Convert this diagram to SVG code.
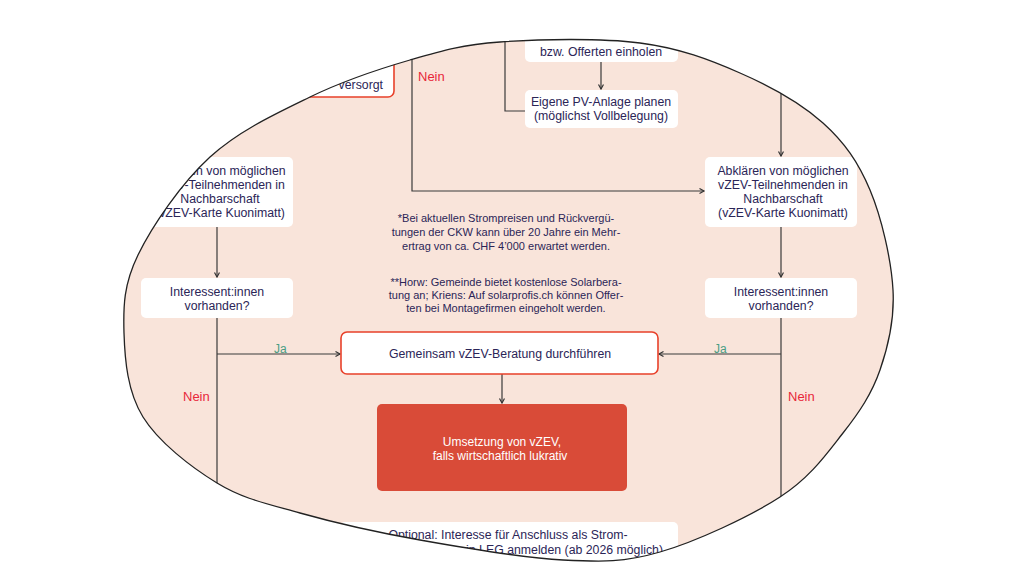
<svg xmlns="http://www.w3.org/2000/svg" width="1024" height="576" viewBox="0 0 1024 576">
<defs>
<path id="blob" d="M500 42 C538.3 39.2 600 37.8 640 43 C680 48.2 709.5 59.7 740 73 C770.5 86.3 801.3 103.5 823 123 C844.7 142.5 858.3 162.2 870 190 C881.7 217.8 891.3 260 893 290 C894.7 320 888.3 346.2 880 370 C871.7 393.8 859.7 411.8 843 433 C826.3 454.2 810.5 477.2 780 497 C749.5 516.8 696.2 541.5 660 552 C623.8 562.5 603 562 563 560 C523 558 463.8 547.8 420 540 C376.2 532.2 333.8 522.5 300 513 C266.2 503.5 243.2 499 217 483 C190.8 467 158.5 442 143 417 C127.5 392 124.8 360 124 333 C123.2 306 123.7 284.3 138 255 C152.3 225.7 181.3 183.3 210 157 C238.7 130.7 276.7 113.2 310 97 C343.3 80.8 378.3 69.2 410 60 C441.7 50.8 461.7 44.8 500 42 Z"/>
<clipPath id="clip"><use href="#blob"/></clipPath>
<marker id="arr" markerUnits="userSpaceOnUse" markerWidth="8" markerHeight="8" refX="5" refY="3" orient="auto">
<path d="M0.5,0.5 L5,3 L0.5,5.5" fill="none" stroke="#333" stroke-width="1.2"/>
</marker>
<style>
.box{fill:#ffffff}
.redbox{fill:#ffffff;stroke:#e8402a;stroke-width:1.6}
.act{fill:#d94b38}
.t{font-family:"Liberation Sans",Arial,sans-serif;font-size:12.3px;fill:#2b2557;text-anchor:middle}
.note{font-family:"Liberation Sans",Arial,sans-serif;font-size:11px;fill:#2b2557;text-anchor:middle}
.w{font-family:"Liberation Sans",Arial,sans-serif;font-size:12px;fill:#ffffff;text-anchor:middle}
.ja{font-family:"Liberation Sans",Arial,sans-serif;font-size:12px;fill:#4a9e84}
.nein{font-family:"Liberation Sans",Arial,sans-serif;font-size:13px;fill:#e8283a}
.ln{fill:none;stroke:#3a3a3a;stroke-width:1.2}
</style>
</defs>
<rect width="1024" height="576" fill="#ffffff"/>
<use href="#blob" fill="#f9e4da"/>
<g clip-path="url(#clip)">
<g id="connectors">
<path class="ln" d="M412 0 V191 H704" marker-end="url(#arr)"/>
<path class="ln" d="M505 0 V111 H525"/>
<path class="ln" d="M601 62 V89" marker-end="url(#arr)"/>
<path class="ln" d="M781 0 V156" marker-end="url(#arr)"/>
<path class="ln" d="M217 226 V277" marker-end="url(#arr)"/>
<path class="ln" d="M781 227 V277" marker-end="url(#arr)"/>
<path class="ln" d="M217 318 V576"/>
<path class="ln" d="M781 318 V576"/>
<path class="ln" d="M217 354 H340" marker-end="url(#arr)"/>
<path class="ln" d="M781 354 H659" marker-end="url(#arr)"/>
<path class="ln" d="M502 374 V403" marker-end="url(#arr)"/>
<text class="nein" x="418" y="81">Nein</text>
<text class="ja" x="274" y="353">Ja</text>
<text class="ja" x="714" y="353">Ja</text>
<text class="nein" x="183" y="401">Nein</text>
<text class="nein" x="788" y="401">Nein</text>
</g>
<g id="versorgt">
<rect class="redbox" x="180" y="20" width="214" height="77" rx="6"/>
<text class="t" x="383" y="89" style="text-anchor:end">versorgt</text>
</g>
<g id="offerten">
<rect class="box" x="525" y="10" width="153" height="52" rx="5"/>
<text class="t" x="601" y="56">bzw. Offerten einholen</text>
</g>
<g id="pvanlage">
<rect class="box" x="525" y="90" width="153" height="38" rx="5"/>
<text class="t" x="601" y="106">Eigene PV-Anlage planen</text>
<text class="t" x="601" y="120">(möglichst Vollbelegung)</text>
</g>
<g id="abklaeren-links">
<rect class="box" x="141" y="157" width="152" height="70" rx="5"/>
<text class="t" x="220" y="175">Abklären von möglichen</text>
<text class="t" x="220" y="189">vZEV-Teilnehmenden in</text>
<text class="t" x="220" y="203">Nachbarschaft</text>
<text class="t" x="220" y="217">(vZEV-Karte Kuonimatt)</text>
</g>
<g id="abklaeren-rechts">
<rect class="box" x="705" y="157" width="152" height="70" rx="5"/>
<text class="t" x="783" y="175">Abklären von möglichen</text>
<text class="t" x="783" y="189">vZEV-Teilnehmenden in</text>
<text class="t" x="783" y="203">Nachbarschaft</text>
<text class="t" x="783" y="217">(vZEV-Karte Kuonimatt)</text>
</g>
<g id="interesse-links">
<rect class="box" x="141" y="278" width="152" height="40" rx="5"/>
<text class="t" x="217" y="296">Interessent:innen</text>
<text class="t" x="217" y="310">vorhanden?</text>
</g>
<g id="interesse-rechts">
<rect class="box" x="705" y="278" width="152" height="40" rx="5"/>
<text class="t" x="781" y="296">Interessent:innen</text>
<text class="t" x="781" y="310">vorhanden?</text>
</g>
<g id="fussnoten">
<text class="note" x="506" y="222">*Bei aktuellen Strompreisen und Rückvergü-</text>
<text class="note" x="506" y="236">tungen der CKW kann über 20 Jahre ein Mehr-</text>
<text class="note" x="506" y="250">ertrag von ca. CHF 4’000 erwartet werden.</text>
<text class="note" x="506" y="286">**Horw: Gemeinde bietet kostenlose Solarbera-</text>
<text class="note" x="506" y="299">tung an; Kriens: Auf solarprofis.ch können Offer-</text>
<text class="note" x="506" y="312">ten bei Montagefirmen eingeholt werden.</text>
</g>
<g id="beratung">
<rect class="redbox" x="341" y="332" width="317" height="42" rx="6"/>
<text class="t" x="500" y="358">Gemeinsam vZEV-Beratung durchführen</text>
</g>
<g id="umsetzung">
<rect class="act" x="377" y="404" width="250" height="87" rx="5"/>
<text class="w" x="502" y="446">Umsetzung von vZEV,</text>
<text class="w" x="500" y="460">falls wirtschaftlich lukrativ</text>
</g>
<g id="optional">
<rect class="box" x="340" y="522" width="338" height="60" rx="5"/>
<text class="t" x="508" y="539">Optional: Interesse für Anschluss als Strom-</text>
<text class="t" x="663" y="554" style="text-anchor:end">bezüger in LEG anmelden (ab 2026 möglich)</text>
</g>
</g>
<use href="#blob" fill="none" stroke="#222222" stroke-width="1.3"/>
</svg>
